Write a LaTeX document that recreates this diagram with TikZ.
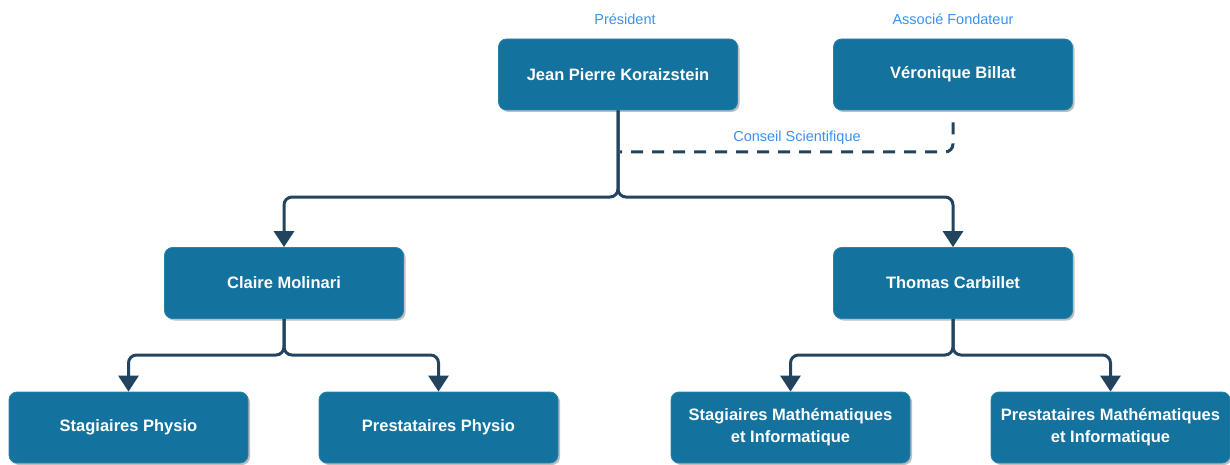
\documentclass[tikz,border=0pt]{standalone}
\usepackage{fontspec}
\setmainfont{Liberation Sans}
\usetikzlibrary{arrows.meta,shadows}
\definecolor{boxblue}{RGB}{20,115,158}
\definecolor{boxedge}{RGB}{40,130,170}
\definecolor{linenavy}{RGB}{35,68,94}
\definecolor{labelblue}{RGB}{60,145,240}
\tikzset{
  orgbox/.style={draw=boxedge, line width=0.8pt, fill=boxblue, rounded corners=8pt,
    minimum width=239pt, minimum height=71pt, align=center, text=white,
    font=\bfseries\fontsize{16.5}{22}\selectfont,
    drop shadow={shadow xshift=2pt, shadow yshift=-2pt, opacity=0.25, fill=black}},
  toplabel/.style={text=labelblue, font=\fontsize{14.5}{17}\selectfont},
  conn/.style={draw=linenavy, line width=3pt, rounded corners=8pt,
    -{Triangle[width=20pt,length=16pt]}},
  dashconn/.style={draw=linenavy, line width=3pt, rounded corners=8pt,
    dash pattern=on 12pt off 9pt},
}
\begin{document}
\begin{tikzpicture}[x=1pt,y=-1pt]
\useasboundingbox (0,0) rectangle (1230,465);
% nodes
\node[orgbox] (jp) at (618,74.5) {Jean Pierre Koraizstein};
\node[orgbox] (vb) at (953,74.5) {Véronique Billat};
\node[orgbox] (cm) at (284,283) {Claire Molinari};
\node[orgbox] (tc) at (953,283) {Thomas Carbillet};
\node[orgbox] (sp) at (128.5,427.5) {Stagiaires Physio};
\node[orgbox] (pp) at (438.5,427.5) {Prestataires Physio};
\node[orgbox] (sm) at (790.5,427.5) {Stagiaires Mathématiques\\et Informatique};
\node[orgbox] (pm) at (1110.5,427.5) {Prestataires Mathématiques\\et Informatique};
% labels
\node[toplabel] (pres) at (625,19) {Président};
\node[toplabel] (assoc) at (953,19) {Associé Fondateur};
\node[toplabel] (conseil) at (797,138) {Conseil Scientifique};
% helper coordinates
\coordinate (jpsplit) at (618,197);
\coordinate (cmsplit) at (284,355);
\coordinate (tcsplit) at (953,355);
\coordinate (dj) at (620,152);
% connectors
\draw[dashconn] ([yshift=-12pt]vb.south) |- (dj);
\draw[conn] (jp.south) -- (jpsplit) -| (cm.north);
\draw[conn] (jp.south) -- (jpsplit) -| (tc.north);
\draw[conn] (cm.south) -- (cmsplit) -| (sp.north);
\draw[conn] (cm.south) -- (cmsplit) -| (pp.north);
\draw[conn] (tc.south) -- (tcsplit) -| (sm.north);
\draw[conn] (tc.south) -- (tcsplit) -| (pm.north);
\end{tikzpicture}
\end{document}
